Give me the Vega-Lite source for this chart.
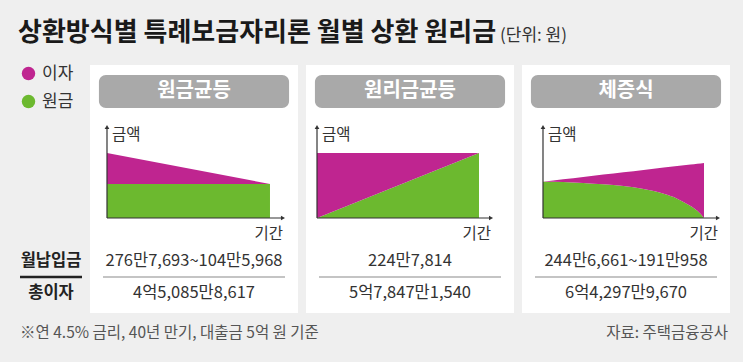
{
  "$schema": "https://vega.github.io/schema/vega-lite/v6.json",
  "background": "#efefef",
  "padding": {"left": 18, "top": 20, "right": 13, "bottom": 9},
  "config": {
    "font": "Noto Sans CJK KR",
    "view": {"stroke": null},
    "axis": {"disable": true}
  },
  "datasets": {
    "legend": [{"type": "이자"}, {"type": "원금"}],
    "panels": [{"method": "원금균등"}, {"method": "원리금균등"}, {"method": "체증식"}],
    "rowlabels": [{"row": "월납입금"}, {"row": "총이자"}],
    "table": [
      {"method": "원금균등", "row": "월납입금", "value": "276만7,693~104만5,968"},
      {"method": "원금균등", "row": "총이자", "value": "4억5,085만8,617"},
      {"method": "원리금균등", "row": "월납입금", "value": "224만7,814"},
      {"method": "원리금균등", "row": "총이자", "value": "5억7,847만1,540"},
      {"method": "체증식", "row": "월납입금", "value": "244만6,661~191만958"},
      {"method": "체증식", "row": "총이자", "value": "6억4,297만9,670"}
    ],
    "areas": [
      {"method": "원금균등", "t": 0, "type": "원금", "value": 100},
      {"method": "원금균등", "t": 0, "type": "이자", "value": 91},
      {"method": "원금균등", "t": 480, "type": "원금", "value": 100},
      {"method": "원금균등", "t": 480, "type": "이자", "value": 0},
      {"method": "원리금균등", "t": 0, "type": "원금", "value": 0},
      {"method": "원리금균등", "t": 0, "type": "이자", "value": 191},
      {"method": "원리금균등", "t": 480, "type": "원금", "value": 191},
      {"method": "원리금균등", "t": 480, "type": "이자", "value": 0},
      {"method": "체증식", "t": 0, "type": "원금", "value": 107},
      {"method": "체증식", "t": 0, "type": "이자", "value": 0},
      {"method": "체증식", "t": 60, "type": "원금", "value": 106},
      {"method": "체증식", "t": 60, "type": "이자", "value": 7.9},
      {"method": "체증식", "t": 120, "type": "원금", "value": 103},
      {"method": "체증식", "t": 120, "type": "이자", "value": 17.8},
      {"method": "체증식", "t": 180, "type": "원금", "value": 99},
      {"method": "체증식", "t": 180, "type": "이자", "value": 28.6},
      {"method": "체증식", "t": 240, "type": "원금", "value": 94},
      {"method": "체증식", "t": 240, "type": "이자", "value": 40.5},
      {"method": "체증식", "t": 300, "type": "원금", "value": 85},
      {"method": "체증식", "t": 300, "type": "이자", "value": 56.4},
      {"method": "체증식", "t": 360, "type": "원금", "value": 71},
      {"method": "체증식", "t": 360, "type": "이자", "value": 77.3},
      {"method": "체증식", "t": 400, "type": "원금", "value": 57},
      {"method": "체증식", "t": 400, "type": "이자", "value": 95.8},
      {"method": "체증식", "t": 440, "type": "원금", "value": 35},
      {"method": "체증식", "t": 440, "type": "이자", "value": 122.4},
      {"method": "체증식", "t": 460, "type": "원금", "value": 21},
      {"method": "체증식", "t": 460, "type": "이자", "value": 138.7},
      {"method": "체증식", "t": 480, "type": "원금", "value": 0},
      {"method": "체증식", "t": 480, "type": "이자", "value": 162}
    ],
    "notes": [
      {"kind": "note", "text": "※연 4.5% 금리, 40년 만기, 대출금 5억 원 기준"},
      {"kind": "source", "text": "자료: 주택금융공사"}
    ]
  },
  "columns": 4,
  "spacing": {"row": 0, "column": 8},
  "bounds": "flush",
  "align": "each",
  "resolve": {"scale": {"color": "independent", "x": "independent", "y": "independent"}, "legend": {"color": "independent"}},
  "concat": [
    {
      "width": 62,
      "height": 47,
      "title": {"text": "상환방식별 특례보금자리론 월별 상환 원리금", "anchor": "start", "dx": -2, "fontSize": 26, "fontWeight": "bold", "color": "#1a1a1a", "offset": 19},
      "data": {"name": "legend"},
      "mark": {"type": "point", "filled": true, "size": 0},
      "encoding": {
        "color": {
          "field": "type", "type": "nominal",
          "scale": {"domain": ["이자", "원금"], "range": ["#bf2590", "#6cb92f"]},
          "legend": {"orient": "top-left", "title": null, "offset": 0, "padding": 0, "symbolType": "circle", "symbolSize": 180, "symbolOpacity": 1, "symbolStrokeWidth": 0, "labelFontSize": 17, "labelColor": "#333", "rowPadding": 10, "labelOffset": 5}
        }
      }
    },
    {
      "width": 208, "height": 47,
      "view": {"fill": "white"},
      "title": {"text": "(단위: 원)", "anchor": "start", "dx": 410, "fontSize": 17, "fontWeight": "normal", "color": "#333", "offset": 20},
      "data": {"name": "panels"},
      "transform": [{"filter": "datum.method === '원금균등'"}],
      "layer": [
        {"mark": {"type": "rect", "color": "#a9a9a9", "cornerRadius": 7},
         "encoding": {
           "x": {"field": "method", "type": "nominal", "axis": null, "scale": {"paddingInner": 0, "paddingOuter": 0.047}},
           "y": {"field": "method", "type": "nominal", "axis": null, "scale": {"paddingInner": 0, "paddingOuter": 0.212, "align": 0.714}}}},
        {"mark": {"type": "text", "color": "white", "fontSize": 20, "fontWeight": "bold"},
         "encoding": {
           "x": {"field": "method", "type": "nominal", "axis": null},
           "y": {"field": "method", "type": "nominal", "axis": null},
           "text": {"field": "method"}}}
      ]
    },
    {
      "width": 208, "height": 47,
      "view": {"fill": "white"},
      "data": {"name": "panels"},
      "transform": [{"filter": "datum.method === '원리금균등'"}],
      "layer": [
        {"mark": {"type": "rect", "color": "#a9a9a9", "cornerRadius": 7},
         "encoding": {
           "x": {"field": "method", "type": "nominal", "axis": null, "scale": {"paddingInner": 0, "paddingOuter": 0.047}},
           "y": {"field": "method", "type": "nominal", "axis": null, "scale": {"paddingInner": 0, "paddingOuter": 0.212, "align": 0.714}}}},
        {"mark": {"type": "text", "color": "white", "fontSize": 20, "fontWeight": "bold"},
         "encoding": {
           "x": {"field": "method", "type": "nominal", "axis": null},
           "y": {"field": "method", "type": "nominal", "axis": null},
           "text": {"field": "method"}}}
      ]
    },
    {
      "width": 208, "height": 47,
      "view": {"fill": "white"},
      "data": {"name": "panels"},
      "transform": [{"filter": "datum.method === '체증식'"}],
      "layer": [
        {"mark": {"type": "rect", "color": "#a9a9a9", "cornerRadius": 7},
         "encoding": {
           "x": {"field": "method", "type": "nominal", "axis": null, "scale": {"paddingInner": 0, "paddingOuter": 0.047}},
           "y": {"field": "method", "type": "nominal", "axis": null, "scale": {"paddingInner": 0, "paddingOuter": 0.212, "align": 0.714}}}},
        {"mark": {"type": "text", "color": "white", "fontSize": 20, "fontWeight": "bold"},
         "encoding": {
           "x": {"field": "method", "type": "nominal", "axis": null},
           "y": {"field": "method", "type": "nominal", "axis": null},
           "text": {"field": "method"}}}
      ]
    },
    {
      "width": 62, "height": 133,
      "data": {"values": []},
      "mark": "point"
    },
    {
      "width": 208, "height": 133,
      "view": {"fill": "white"},
      "layer": [
        {
          "data": {"name": "areas"},
          "transform": [{"filter": "datum.method === '원금균등'"}],
          "mark": {"type": "area", "interpolate": "monotone"},
          "encoding": {
            "x": {"field": "t", "type": "quantitative", "axis": null, "scale": {"domain": [-50.06, 562.5], "nice": false, "zero": false}},
            "y": {"field": "value", "type": "quantitative", "stack": "zero", "axis": null, "scale": {"domain": [-79.4, 311.8], "nice": false, "zero": false}},
            "color": {"field": "type", "type": "nominal", "scale": {"domain": ["이자", "원금"], "range": ["#bf2590", "#6cb92f"]}, "legend": null},
            "order": {"field": "type", "type": "nominal", "sort": "ascending"}
          }
        },
        {"data": {"values": [{}]}, "mark": {"type": "rule", "color": "#333", "strokeWidth": 1.2},
         "encoding": {"x": {"datum": 0, "type": "quantitative"}, "y": {"datum": 0, "type": "quantitative"}, "y2": {"datum": 267.6}}},
        {"data": {"values": [{}]}, "mark": {"type": "rule", "color": "#333", "strokeWidth": 1.2},
         "encoding": {"x": {"datum": 0, "type": "quantitative"}, "x2": {"datum": 518.3}, "y": {"datum": 0, "type": "quantitative"}}},
        {"data": {"values": [{}]}, "mark": {"type": "point", "shape": "triangle-up", "filled": true, "color": "#333", "size": 22, "opacity": 1},
         "encoding": {"x": {"datum": 0, "type": "quantitative"}, "y": {"datum": 267.6, "type": "quantitative"}}},
        {"data": {"values": [{}]}, "mark": {"type": "point", "shape": "triangle-right", "filled": true, "color": "#333", "size": 22, "opacity": 1},
         "encoding": {"x": {"datum": 518.3, "type": "quantitative"}, "y": {"datum": 0, "type": "quantitative"}}},
        {"data": {"values": [{}]}, "mark": {"type": "text", "text": "금액", "align": "left", "baseline": "middle", "dx": 5, "dy": 8, "fontSize": 15.5, "color": "#333"},
         "encoding": {"x": {"datum": 0, "type": "quantitative"}, "y": {"datum": 267.6, "type": "quantitative"}}},
        {"data": {"values": [{}]}, "mark": {"type": "text", "text": "기간", "align": "right", "baseline": "middle", "dy": 16, "fontSize": 15.5, "color": "#333"},
         "encoding": {"x": {"datum": 518.3, "type": "quantitative"}, "y": {"datum": 0, "type": "quantitative"}}}
      ]
    },
    {
      "width": 208, "height": 133,
      "view": {"fill": "white"},
      "layer": [
        {
          "data": {"name": "areas"},
          "transform": [{"filter": "datum.method === '원리금균등'"}],
          "mark": {"type": "area", "interpolate": "monotone"},
          "encoding": {
            "x": {"field": "t", "type": "quantitative", "axis": null, "scale": {"domain": [-32.6, 583.7], "nice": false, "zero": false}},
            "y": {"field": "value", "type": "quantitative", "stack": "zero", "axis": null, "scale": {"domain": [-79.4, 311.8], "nice": false, "zero": false}},
            "color": {"field": "type", "type": "nominal", "scale": {"domain": ["이자", "원금"], "range": ["#bf2590", "#6cb92f"]}, "legend": null},
            "order": {"field": "type", "type": "nominal", "sort": "ascending"}
          }
        },
        {"data": {"values": [{}]}, "mark": {"type": "rule", "color": "#333", "strokeWidth": 1.2},
         "encoding": {"x": {"datum": 0, "type": "quantitative"}, "y": {"datum": 0, "type": "quantitative"}, "y2": {"datum": 267.6}}},
        {"data": {"values": [{}]}, "mark": {"type": "rule", "color": "#333", "strokeWidth": 1.2},
         "encoding": {"x": {"datum": 0, "type": "quantitative"}, "x2": {"datum": 515.6}, "y": {"datum": 0, "type": "quantitative"}}},
        {"data": {"values": [{}]}, "mark": {"type": "point", "shape": "triangle-up", "filled": true, "color": "#333", "size": 22, "opacity": 1},
         "encoding": {"x": {"datum": 0, "type": "quantitative"}, "y": {"datum": 267.6, "type": "quantitative"}}},
        {"data": {"values": [{}]}, "mark": {"type": "point", "shape": "triangle-right", "filled": true, "color": "#333", "size": 22, "opacity": 1},
         "encoding": {"x": {"datum": 515.6, "type": "quantitative"}, "y": {"datum": 0, "type": "quantitative"}}},
        {"data": {"values": [{}]}, "mark": {"type": "text", "text": "금액", "align": "left", "baseline": "middle", "dx": 5, "dy": 8, "fontSize": 15.5, "color": "#333"},
         "encoding": {"x": {"datum": 0, "type": "quantitative"}, "y": {"datum": 267.6, "type": "quantitative"}}},
        {"data": {"values": [{}]}, "mark": {"type": "text", "text": "기간", "align": "right", "baseline": "middle", "dy": 16, "fontSize": 15.5, "color": "#333"},
         "encoding": {"x": {"datum": 515.6, "type": "quantitative"}, "y": {"datum": 0, "type": "quantitative"}}}
      ]
    },
    {
      "width": 208, "height": 133,
      "view": {"fill": "white"},
      "layer": [
        {
          "data": {"name": "areas"},
          "transform": [{"filter": "datum.method === '체증식'"}],
          "mark": {"type": "area", "interpolate": "monotone"},
          "encoding": {
            "x": {"field": "t", "type": "quantitative", "axis": null, "scale": {"domain": [-62.6, 557.5], "nice": false, "zero": false}},
            "y": {"field": "value", "type": "quantitative", "stack": "zero", "axis": null, "scale": {"domain": [-79.4, 311.8], "nice": false, "zero": false}},
            "color": {"field": "type", "type": "nominal", "scale": {"domain": ["이자", "원금"], "range": ["#bf2590", "#6cb92f"]}, "legend": null},
            "order": {"field": "type", "type": "nominal", "sort": "ascending"}
          }
        },
        {"data": {"values": [{}]}, "mark": {"type": "rule", "color": "#333", "strokeWidth": 1.2},
         "encoding": {"x": {"datum": 0, "type": "quantitative"}, "y": {"datum": 0, "type": "quantitative"}, "y2": {"datum": 267.6}}},
        {"data": {"values": [{}]}, "mark": {"type": "rule", "color": "#333", "strokeWidth": 1.2},
         "encoding": {"x": {"datum": 0, "type": "quantitative"}, "x2": {"datum": 521.7}, "y": {"datum": 0, "type": "quantitative"}}},
        {"data": {"values": [{}]}, "mark": {"type": "point", "shape": "triangle-up", "filled": true, "color": "#333", "size": 22, "opacity": 1},
         "encoding": {"x": {"datum": 0, "type": "quantitative"}, "y": {"datum": 267.6, "type": "quantitative"}}},
        {"data": {"values": [{}]}, "mark": {"type": "point", "shape": "triangle-right", "filled": true, "color": "#333", "size": 22, "opacity": 1},
         "encoding": {"x": {"datum": 521.7, "type": "quantitative"}, "y": {"datum": 0, "type": "quantitative"}}},
        {"data": {"values": [{}]}, "mark": {"type": "text", "text": "금액", "align": "left", "baseline": "middle", "dx": 5, "dy": 8, "fontSize": 15.5, "color": "#333"},
         "encoding": {"x": {"datum": 0, "type": "quantitative"}, "y": {"datum": 267.6, "type": "quantitative"}}},
        {"data": {"values": [{}]}, "mark": {"type": "text", "text": "기간", "align": "right", "baseline": "middle", "dy": 16, "fontSize": 15.5, "color": "#333"},
         "encoding": {"x": {"datum": 521.7, "type": "quantitative"}, "y": {"datum": 0, "type": "quantitative"}}}
      ]
    },
    {
      "width": 62, "height": 68,
      "layer": [
        {
          "data": {"name": "rowlabels"},
          "mark": {"type": "text", "fontSize": 16.5, "fontWeight": "bold", "color": "#222"},
          "encoding": {
            "y": {"field": "row", "type": "nominal", "axis": null, "scale": {"domain": ["월납입금", "총이자"], "paddingInner": 0, "paddingOuter": 0.0625, "align": 0}},
            "text": {"field": "row"}
          }
        },
        {
          "data": {"values": [{"row": "총이자"}]},
          "mark": {"type": "rule", "color": "#222", "strokeWidth": 2.5},
          "encoding": {"y": {"field": "row", "type": "nominal", "bandPosition": 0, "axis": null}}
        }
      ]
    },
    {
      "width": 208, "height": 68,
      "view": {"fill": "white"},
      "layer": [
        {
          "data": {"name": "table"},
          "transform": [{"filter": "datum.method === '원금균등'"}],
          "mark": {"type": "text", "fontSize": 16.5, "color": "#333"},
          "encoding": {
            "y": {"field": "row", "type": "nominal", "axis": null, "scale": {"domain": ["월납입금", "총이자"], "paddingInner": 0, "paddingOuter": 0.0625, "align": 0}},
            "text": {"field": "value"}
          }
        },
        {
          "data": {"values": [{"row": "총이자"}]},
          "mark": {"type": "rule", "color": "#b0b0b0", "strokeWidth": 1.5},
          "encoding": {
            "y": {"field": "row", "type": "nominal", "bandPosition": 0, "axis": null},
            "x": {"datum": 0.0625, "type": "quantitative", "scale": {"domain": [0, 1], "nice": false}, "axis": null},
            "x2": {"datum": 0.9375}
          }
        }
      ]
    },
    {
      "width": 208, "height": 68,
      "view": {"fill": "white"},
      "layer": [
        {
          "data": {"name": "table"},
          "transform": [{"filter": "datum.method === '원리금균등'"}],
          "mark": {"type": "text", "fontSize": 16.5, "color": "#333"},
          "encoding": {
            "y": {"field": "row", "type": "nominal", "axis": null, "scale": {"domain": ["월납입금", "총이자"], "paddingInner": 0, "paddingOuter": 0.0625, "align": 0}},
            "text": {"field": "value"}
          }
        },
        {
          "data": {"values": [{"row": "총이자"}]},
          "mark": {"type": "rule", "color": "#b0b0b0", "strokeWidth": 1.5},
          "encoding": {
            "y": {"field": "row", "type": "nominal", "bandPosition": 0, "axis": null},
            "x": {"datum": 0.0625, "type": "quantitative", "scale": {"domain": [0, 1], "nice": false}, "axis": null},
            "x2": {"datum": 0.9375}
          }
        }
      ]
    },
    {
      "width": 208, "height": 68,
      "view": {"fill": "white"},
      "layer": [
        {
          "data": {"name": "table"},
          "transform": [{"filter": "datum.method === '체증식'"}],
          "mark": {"type": "text", "fontSize": 16.5, "color": "#333"},
          "encoding": {
            "y": {"field": "row", "type": "nominal", "axis": null, "scale": {"domain": ["월납입금", "총이자"], "paddingInner": 0, "paddingOuter": 0.0625, "align": 0}},
            "text": {"field": "value"}
          }
        },
        {
          "data": {"values": [{"row": "총이자"}]},
          "mark": {"type": "rule", "color": "#b0b0b0", "strokeWidth": 1.5},
          "encoding": {
            "y": {"field": "row", "type": "nominal", "bandPosition": 0, "axis": null},
            "x": {"datum": 0.0625, "type": "quantitative", "scale": {"domain": [0, 1], "nice": false}, "axis": null},
            "x2": {"datum": 0.9375}
          }
        }
      ]
    },
    {
      "width": 62, "height": 40,
      "data": {"name": "notes"},
      "transform": [{"filter": "datum.kind === 'note'"}],
      "mark": {"type": "text", "align": "left", "fontSize": 15.5, "color": "#555"},
      "encoding": {
        "x": {"field": "kind", "type": "nominal", "axis": null, "scale": {"type": "point", "padding": 0, "align": 0}},
        "text": {"field": "text"}
      }
    },
    {
      "width": 208, "height": 40,
      "data": {"values": []},
      "mark": "point"
    },
    {
      "width": 208, "height": 40,
      "data": {"values": []},
      "mark": "point"
    },
    {
      "width": 208, "height": 40,
      "data": {"name": "notes"},
      "transform": [{"filter": "datum.kind === 'source'"}],
      "mark": {"type": "text", "align": "right", "dx": -2, "fontSize": 15.5, "color": "#555"},
      "encoding": {
        "x": {"field": "kind", "type": "nominal", "axis": null, "scale": {"type": "point", "padding": 0, "align": 1}},
        "text": {"field": "text"}
      }
    }
  ]
}
